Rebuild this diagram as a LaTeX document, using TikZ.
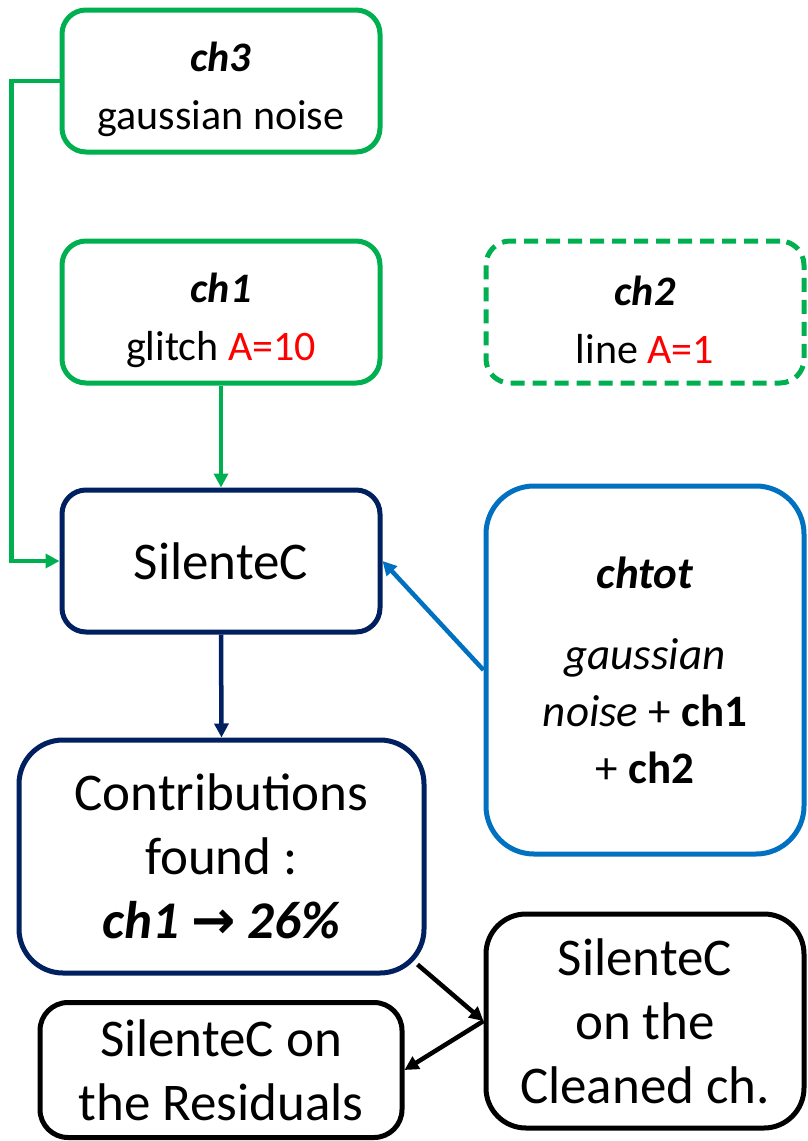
\documentclass[tikz,border=0pt]{standalone}
\usepackage{fontspec}
\setmainfont{Carlito}
\newfontfamily\arrowfont{DejaVu Sans}
\usetikzlibrary{arrows.meta, calc}
\definecolor{chgreen}{RGB}{0,176,80}
\definecolor{silnavy}{RGB}{0,32,96}
\definecolor{totblue}{RGB}{0,112,192}
\definecolor{ampred}{RGB}{255,0,0}
\newcommand{\topstrut}{\rule{0pt}{46pt}}

\begin{document}
\begin{tikzpicture}[
    x={(1pt,0)}, y={(0,-1pt)},
    every node/.style={align=center, inner sep=0pt},
    small/.style={font=\fontsize{42}{58}\selectfont},
    big/.style={font=\fontsize{53}{64}\selectfont},
    box/.style={draw=#1, line width=5pt, rounded corners=24pt, minimum width=318pt, minimum height=142pt},
    flow/.style={-{Triangle[length=14pt, width=14pt]}, line width=4.5pt, draw=#1},
]
\useasboundingbox (0,0) rectangle (807,1141);

%% Input channels
\node[box=chgreen, small] (ch3) at (221, 81) {\topstrut\textbf{\textit{ch3}}\\gaussian noise};
\node[box=chgreen, small] (ch1) at (221, 312) {\topstrut\textbf{\textit{ch1}}\\glitch \textcolor{ampred}{A=10}};
\node[box=chgreen, small, dashed, dash pattern=on 14pt off 8pt] (ch2) at (645, 312) {\topstrut\textbf{\textit{ch2}}\\line \textcolor{ampred}{A=1}};

%% SilenteC and target channel
\node[box=silnavy, big] (silentec) at (221, 561) {SilenteC};
\node[box=totblue, minimum height=368pt, rounded corners=48pt, font=\fontsize{45}{57}\selectfont] (chtot) at (645, 670)
    {\textbf{\textit{chtot}}\\[24pt]\textit{gaussian}\\\textit{noise} + \textbf{ch1}\\+ \textbf{ch2}};

%% Results
\node[box=silnavy, big, minimum width=405pt, minimum height=233pt, rounded corners=44pt] (contrib) at (221.5, 856.5)
    {Contributions\\found :\\\textbf{\textit{ch1 {\arrowfont\bfseries\upshape →} 26\%}}};
\node[box=black, big, minimum height=214pt, rounded corners=40pt] (cleaned) at (645, 1021) {SilenteC\\on the\\Cleaned ch.};
\node[box=black, big, minimum width=362pt, minimum height=135pt, rounded corners=28pt] (resid) at (221, 1070) {SilenteC on\\the Residuals};

%% Connections
\draw[flow=chgreen] (ch3.west) -- ++(-48, 0) |- (silentec.west);
\draw[flow=chgreen] (ch1.south) -- (silentec.north);
\draw[flow=totblue] (chtot.west) -- (silentec.east);
\draw[flow=silnavy] (silentec.south) -- (contrib.north);
\draw[flow=black] ([xshift=-9pt, yshift=11pt]contrib.south east) -- (cleaned.west);
\draw[flow=black] (cleaned.west) -- (resid.east);

\end{tikzpicture}
\end{document}
